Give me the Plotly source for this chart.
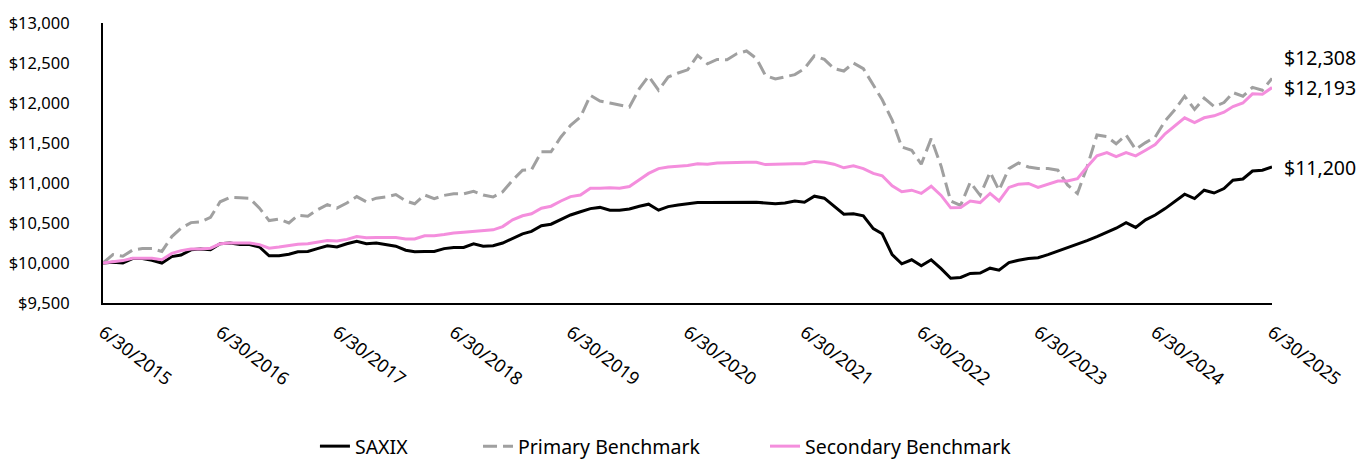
import pandas as pd
import plotly.graph_objects as go

dates = pd.date_range("2015-06-30", periods=121, freq="ME")

saxix = [10000, 10010, 10000, 10055, 10055, 10035, 10000, 10080, 10100, 10165, 10175, 10165,
         10240, 10250, 10230, 10230, 10200, 10090, 10090, 10110, 10140, 10145, 10180, 10215,
         10200, 10240, 10270, 10240, 10250, 10230, 10210, 10160, 10140, 10145, 10145, 10180,
         10195, 10195, 10240, 10210, 10215, 10250, 10310, 10365, 10395, 10465, 10485, 10545,
         10600, 10640, 10680, 10695, 10660, 10660, 10675, 10710, 10735, 10660, 10705, 10725,
         10740, 10755, 10755, 10755, 10760, 10760, 10760, 10760, 10750, 10740, 10750, 10775,
         10760, 10835, 10810, 10710, 10610, 10615, 10590, 10430, 10365, 10105, 9990, 10040,
         9965, 10040, 9930, 9810, 9820, 9870, 9875, 9935, 9910, 10005, 10035, 10055,
         10065, 10105, 10150, 10190, 10230, 10280, 10330, 10380, 10435, 10505, 10445, 10540,
         10600, 10680, 10775, 10860, 10805, 10910, 10875, 10930, 11035, 11050, 11150, 11160,
         11200]

primary = [10000, 10105, 10085, 10160, 10180, 10180, 10145, 10330, 10435, 10505, 10515, 10570,
           10765, 10820, 10815, 10810, 10685, 10530, 10550, 10500, 10595, 10585, 10665, 10730,
           10685, 10750, 10830, 10765, 10810, 10825, 10855, 10775, 10740, 10850, 10805, 10845,
           10865, 10865, 10895, 10850, 10825, 10890, 11035, 11160, 11165, 11390, 11390, 11575,
           11720, 11825, 12095, 12025, 12000, 11980, 11950, 12180, 12335, 12160, 12325, 12375,
           12415, 12595, 12490, 12545, 12540, 12615, 12650, 12555, 12345, 12300, 12325, 12355,
           12430, 12590, 12545, 12430, 12400, 12500, 12430, 12220, 12040, 11785, 11450, 11410,
           11235, 11555, 11210, 10775, 10720, 11010, 10845, 11135, 10910, 11180, 11250, 11200,
           11180, 11180, 11160, 10975, 10870, 11200, 11600, 11580, 11490, 11600, 11420, 11505,
           11575, 11775, 11920, 12085, 11920, 12060, 11955, 12005, 12130, 12085, 12195, 12160,
           12308]

secondary = [10000, 10015, 10030, 10060, 10060, 10060, 10040, 10120, 10155, 10175, 10175, 10185,
             10240, 10250, 10250, 10250, 10230, 10185, 10200, 10215, 10235, 10240, 10260, 10280,
             10275, 10295, 10330, 10315, 10320, 10320, 10320, 10300, 10300, 10340, 10340, 10355,
             10375, 10385, 10395, 10405, 10415, 10455, 10540, 10590, 10615, 10685, 10710, 10775,
             10830, 10850, 10935, 10935, 10940, 10935, 10955, 11040, 11120, 11180, 11200, 11210,
             11220, 11240, 11235, 11250, 11250, 11255, 11260, 11260, 11230, 11235, 11240, 11240,
             11240, 11270, 11260, 11235, 11190, 11215, 11180, 11120, 11090, 10965, 10890, 10910,
             10870, 10960, 10845, 10690, 10695, 10775, 10755, 10870, 10775, 10945, 10985, 10995,
             10945, 10985, 11025, 11025, 11055, 11200, 11340, 11380, 11330, 11380, 11340, 11410,
             11480, 11615, 11720, 11815, 11755, 11815, 11840, 11885, 11955, 12000, 12115, 12110,
             12193]

tick_dates = pd.date_range("2015-06-30", periods=11, freq="12ME")
tick_labels = [f"6/30/{d.year}" for d in tick_dates]
y_ticks = list(range(9500, 13001, 500))
y_tick_labels = [f"${v:,}" for v in y_ticks]

end_labels = [("$12,308", primary[-1], 21), ("$12,193", secondary[-1], 0), ("$11,200", saxix[-1], 0)]

FONT = "Noto Sans"

fig = go.Figure()
fig.add_trace(go.Scatter(x=dates, y=saxix, name="SAXIX", mode="lines", legend="legend",
                         line=dict(color="#000000", width=3)))
fig.add_trace(go.Scatter(x=dates, y=primary, name="Primary Benchmark", mode="lines", legend="legend2",
                         line=dict(color="#A0A0A0", width=3, dash="14px,6px")))
fig.add_trace(go.Scatter(x=dates, y=secondary, name="Secondary Benchmark", mode="lines", legend="legend3",
                         line=dict(color="#F48EDD", width=3)))

for text, val, ys in end_labels:
    fig.add_annotation(x=1, xref="paper", y=val, yref="y", text=text, showarrow=False,
                       xanchor="left", xshift=10, yshift=ys,
                       font=dict(family=FONT, size=19.5, color="#000000"))

leg_common = dict(orientation="h", xanchor="left", y=-0.582, yanchor="bottom",
                  font=dict(family=FONT, size=19.5), bgcolor="rgba(0,0,0,0)")

fig.update_layout(
    width=1360, height=466,
    margin=dict(l=103, r=88, t=23, b=163, autoexpand=False),
    paper_bgcolor="white", plot_bgcolor="white",
    font=dict(family=FONT, size=16, color="#000000"),
    showlegend=True,
    legend=dict(x=0.1813, **leg_common),
    legend2=dict(x=0.3208, **leg_common),
    legend3=dict(x=0.5663, **leg_common),
)
fig.update_xaxes(
    type="date", range=[dates[0], dates[-1]], automargin=False,
    tickvals=tick_dates, ticktext=tick_labels, tickangle=37,
    showgrid=False, zeroline=False, showline=True, linecolor="#000000", linewidth=2,
    ticks="", ticklabelstandoff=10, tickfont=dict(size=18),
)
fig.update_yaxes(
    range=[9500, 13000], tickvals=y_ticks, ticktext=y_tick_labels, automargin=False,
    showgrid=False, zeroline=False, showline=True, linecolor="#000000", linewidth=2,
    ticks="", ticklabelstandoff=28, tickfont=dict(size=16.5),
)

fig.write_html("out.html", config={"displayModeBar": False},
               post_script="document.body.style.margin='0';")
